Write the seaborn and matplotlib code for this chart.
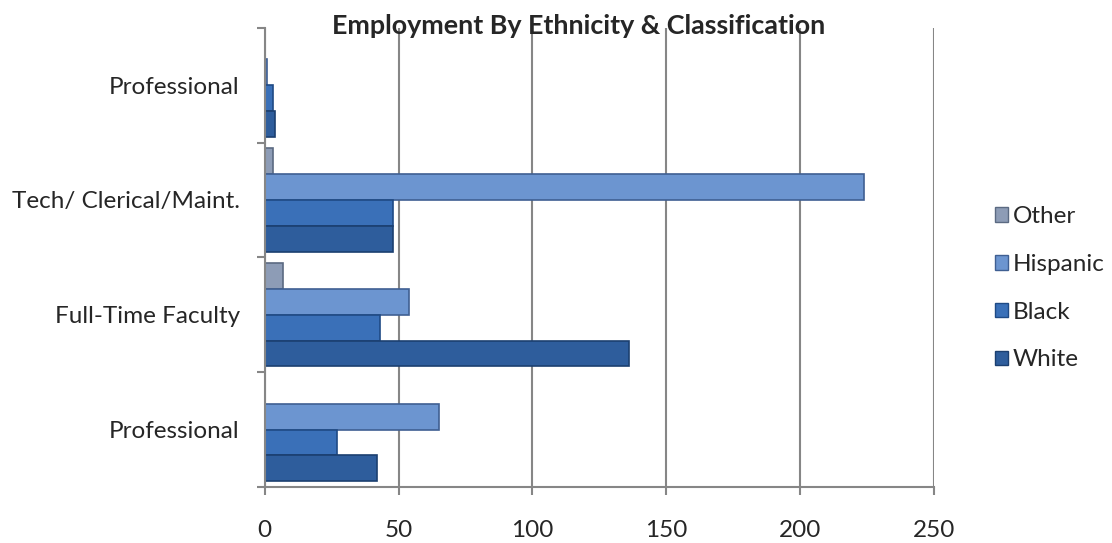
import numpy as np
import pandas as pd
import seaborn as sns
import matplotlib.pyplot as plt
from matplotlib.patches import Patch
from matplotlib.ticker import FixedLocator

# Categories, top to bottom as drawn
categories = ["Professional", "Tech/ Clerical/Maint.", "Full-Time Faculty", "Professional"]
series = ["Other", "Hispanic", "Black", "White"]
other = [0, 3, 7, 0]
hispanic = [1, 224, 54, 65]
black = [3, 48, 43, 27]
white = [4, 48, 136, 42]
x_ticks = [0, 50, 100, 150, 200, 250]

colors = {"Other": "#8d9cb6", "Hispanic": "#6c95d0", "Black": "#3a70b8", "White": "#2e5d9c"}
edges = {"Other": "#5b6a82", "Hispanic": "#3f5f92", "Black": "#1f4a85", "White": "#1b3f70"}

keys = [f"c{i}" for i in range(len(categories))]
rows = []
for name, vals in zip(series, [other, hispanic, black, white]):
    for k, v in zip(keys, vals):
        rows.append({"key": k, "series": name, "value": v})
df = pd.DataFrame(rows)

sns.set_style("white")
plt.rcParams["font.family"] = ["Lato", "DejaVu Sans"]

FS = 17.5
fig = plt.figure(figsize=(11.12, 5.43), dpi=100)
ax = fig.add_axes([0.238, 0.103, 0.602, 0.846])

sns.barplot(data=df, y="key", x="value", hue="series", hue_order=series, order=keys,
            palette=colors, saturation=1, orient="h", width=0.9, gap=0, ax=ax, legend=False,
            linewidth=1.2)

for container, name in zip(ax.containers, series):
    for bar in container:
        bar.set_edgecolor(edges[name])

ax.set_xlim(0, 250)
ax.set_ylim(3.5, -0.5)
ax.set_xticks(x_ticks)
ax.set_xticklabels([str(t) for t in x_ticks], fontsize=FS)
ax.set_yticks(range(len(categories)))
ax.set_yticklabels(categories, fontsize=FS)
ax.yaxis.set_minor_locator(FixedLocator(np.arange(-0.5, len(categories), 1.0)))
ax.tick_params(axis="y", which="major", length=0, pad=18)
ax.tick_params(axis="y", which="minor", length=6, width=1.5, color="#868686", left=True)
ax.tick_params(axis="x", which="major", length=6, width=1.5, color="#868686", pad=18, bottom=True)
ax.set_xlabel("")
ax.set_ylabel("")

ax.grid(axis="x", color="#868686", linewidth=1.5)
ax.set_axisbelow(True)
for s in ["top", "right"]:
    ax.spines[s].set_visible(False)
for s in ["left", "bottom"]:
    ax.spines[s].set_color("#868686")
    ax.spines[s].set_linewidth(1.5)

fig.text(0.52, 0.953, "Employment By Ethnicity & Classification", ha="center", va="center",
         fontsize=19.4, fontweight="bold")

handles = [Patch(facecolor=colors[s], edgecolor=edges[s], label=s) for s in series]
fig.legend(handles=handles, loc="center left", bbox_to_anchor=(0.875, 0.469), frameon=False,
           fontsize=FS, handlelength=0.55, handleheight=0.55, handletextpad=0.2, labelspacing=1.1)

fig.savefig("out.png", dpi=100)
